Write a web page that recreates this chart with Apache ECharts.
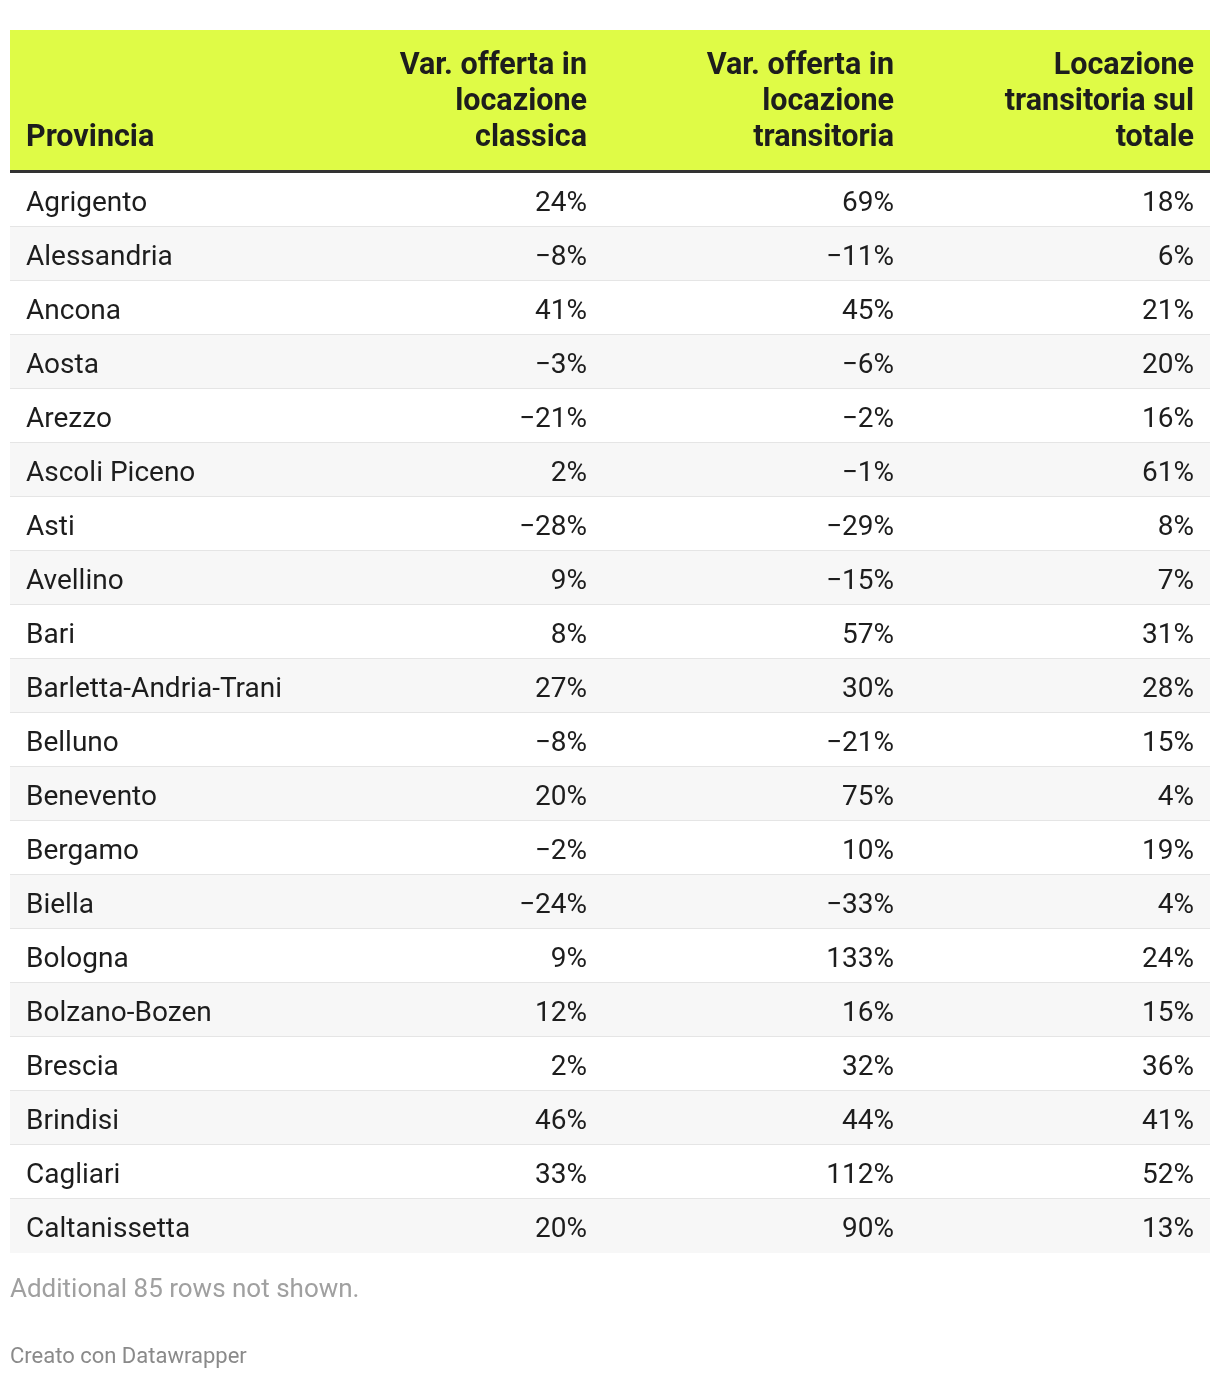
<!DOCTYPE html>
<html>
<head>
<meta charset="utf-8">
<script src="https://cdn.jsdelivr.net/npm/echarts@6/dist/echarts.min.js"></script>
<style>
html,body{margin:0;padding:0;background:#fff;}
#chart{width:1220px;height:1378px;}
</style>
</head>
<body>
<div id="chart"></div>
<script>
const headers = ['Provincia', 'Var. offerta in\nlocazione\nclassica', 'Var. offerta in\nlocazione\ntransitoria', 'Locazione\ntransitoria sul\ntotale'];
const provinces = ['Agrigento','Alessandria','Ancona','Aosta','Arezzo','Ascoli Piceno','Asti','Avellino','Bari','Barletta-Andria-Trani','Belluno','Benevento','Bergamo','Biella','Bologna','Bolzano-Bozen','Brescia','Brindisi','Cagliari','Caltanissetta'];
const varClassica = [24,-8,41,-3,-21,2,-28,9,8,27,-8,20,-2,-24,9,12,2,46,33,20];
const varTransitoria = [69,-11,45,-6,-2,-1,-29,-15,57,30,-21,75,10,-33,133,16,32,44,112,90];
const quotaTransitoria = [18,6,21,20,16,61,8,7,31,28,15,4,19,4,24,15,36,41,52,13];
const noteText = 'Additional 85 rows not shown.';
const creditText = 'Creato con Datawrapper';

// layout (not data)
const colRight = [null, 587, 894, 1194];
const textLeft = 26;
const FONT = 'Roboto, "Noto Sans", sans-serif';

function fmt(v){ return (v < 0 ? '\u2212' + Math.abs(v) : String(v)) + '%'; }

const data = provinces.map((p, i) => [0, i, varClassica[i], varTransitoria[i], quotaTransitoria[i]]);

const chart = echarts.init(document.getElementById('chart'), null, {renderer: 'canvas'});

const HFONT = 'bold 30.5px ' + FONT;
const headerGraphics = [
  {type:'rect', shape:{x:10, y:30, width:1200, height:140}, style:{fill:'#dffb46'}, silent:true},
  {type:'rect', shape:{x:10, y:170, width:1200, height:3}, style:{fill:'#333333'}, silent:true},
  {type:'text', style:{text:headers[0], x:textLeft, y:156, textAlign:'left', textVerticalAlign:'bottom', font:HFONT, fill:'#1d1d1d', lineHeight:36}},
];
for (let c = 1; c < 4; c++) {
  headerGraphics.push({type:'text', style:{text:headers[c], x:colRight[c], y:156, textAlign:'right', textVerticalAlign:'bottom', font:HFONT, fill:'#1d1d1d', lineHeight:36}});
}
headerGraphics.push({type:'text', style:{text:noteText, x:10, y:1290, textAlign:'left', textVerticalAlign:'middle', font:'26px ' + FONT, fill:'#a0a0a0'}});
headerGraphics.push({type:'text', style:{text:creditText, x:10, y:1357, textAlign:'left', textVerticalAlign:'middle', font:'22px ' + FONT, fill:'#8a8a8a'}});

chart.setOption({
  animation: false,
  grid: {left: 10, right: 10, top: 173, height: 1080},
  xAxis: {type:'value', min:0, max:1200, show:false},
  yAxis: {type:'category', data: provinces, inverse:true, show:false},
  graphic: headerGraphics,
  series: [{
    type: 'custom',
    data: data,
    encode: {x: 0, y: 1},
    renderItem: function(params, api){
      const i = api.value(1);
      const cy = api.coord([0, i])[1];
      const h = api.size([0, 1])[1];
      const x0 = params.coordSys.x, w = params.coordSys.width;
      const top = cy - h/2;
      const children = [
        {type:'rect', shape:{x:x0, y:top, width:w, height:h}, style:{fill: i % 2 ? '#f7f7f7' : '#ffffff'}},
      ];
      if (i < provinces.length - 1) {
        children.push({type:'rect', shape:{x:x0, y:top + h - 1, width:w, height:2}, style:{fill:'#e5e5e5'}});
      }
      const font = '28px ' + FONT;
      children.push({type:'text', style:{text: provinces[i], x: x0 + textLeft - 10, y: cy + 4, textAlign:'left', textVerticalAlign:'middle', font: font, fill:'#1d1d1d'}});
      const vals = [api.value(2), api.value(3), api.value(4)];
      for (let c = 1; c < 4; c++) {
        children.push({type:'text', style:{text: fmt(vals[c-1]), x: colRight[c], y: cy + 4, textAlign:'right', textVerticalAlign:'middle', font: font, fill:'#1d1d1d'}});
      }
      return {type:'group', children: children};
    }
  }]
});
</script>
</body>
</html>
